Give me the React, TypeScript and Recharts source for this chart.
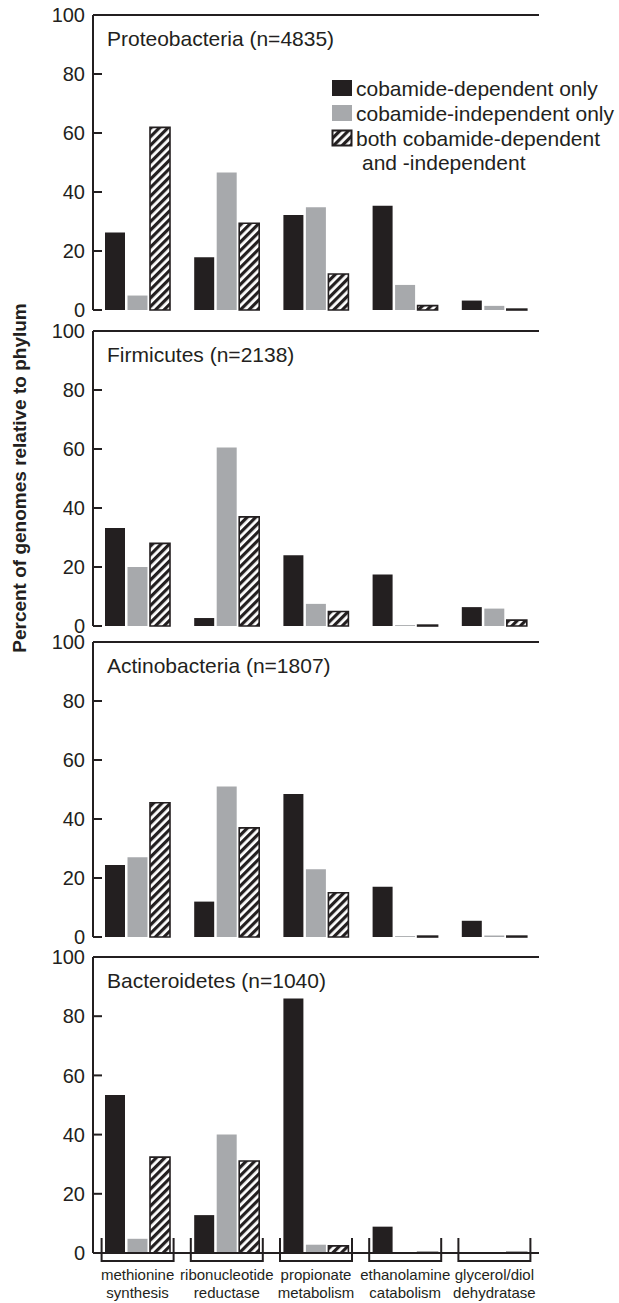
import React from "react";
import { BarChart, Bar, XAxis, YAxis, ReferenceLine } from "recharts";

const INK = "#231f20";
const GREY = "#a7a9ac";
const FONT = '"Liberation Sans", Arial, Helvetica, sans-serif';

const categories = [
  "methionine synthesis",
  "ribonucleotide reductase",
  "propionate metabolism",
  "ethanolamine catabolism",
  "glycerol/diol dehydratase",
];
const yTicks = [0, 20, 40, 60, 80, 100];
const legendLabels = [
  "cobamide-dependent only",
  "cobamide-independent only",
  "both cobamide-dependent",
  "and -independent",
];
const phylumNames = ["Proteobacteria", "Firmicutes", "Actinobacteria", "Bacteroidetes"];
const phylumCounts = [4835, 2138, 1807, 1040];

const proteoDependent = [26.3, 17.9, 32.2, 35.3, 3.2];
const proteoIndependent = [4.9, 46.6, 34.8, 8.5, 1.4];
const proteoBoth = [61.9, 29.4, 12.2, 1.5, 0.3];

const firmiDependent = [33.2, 2.7, 24, 17.5, 6.4];
const firmiIndependent = [20, 60.5, 7.5, 0.3, 5.9];
const firmiBoth = [28, 37, 4.9, 0.3, 2];

const actinoDependent = [24.4, 12, 48.5, 17, 5.5];
const actinoIndependent = [27, 51, 23, 0.3, 0.5];
const actinoBoth = [45.5, 37, 15, 0.3, 0.3];

const bacteroDependent = [53.4, 12.8, 86, 8.9, 0.2];
const bacteroIndependent = [4.8, 40, 2.8, 0.2, 0.2];
const bacteroBoth = [32.4, 31.1, 2.4, 0.2, 0.2];

const panelSeries = [
  [proteoDependent, proteoIndependent, proteoBoth],
  [firmiDependent, firmiIndependent, firmiBoth],
  [actinoDependent, actinoIndependent, actinoBoth],
  [bacteroDependent, bacteroIndependent, bacteroBoth],
];

// plot top (value 100) and bottom (value 0) in page pixels
const panelTops = [15, 331, 642, 957];
const panelBottoms = [310, 626, 937, 1253];

function YTick(props: any) {
  const { x, y, payload } = props;
  return (
    <g>
      <line x1={x} x2={x + 9} y1={y} y2={y} stroke={INK} strokeWidth={2} />
      <text
        x={x - 8}
        y={y}
        dy="0.36em"
        textAnchor="end"
        fontSize={20}
        fontFamily={FONT}
        fill={INK}
      >
        {payload.value}
      </text>
    </g>
  );
}

function CatTick(props: any) {
  const { x, y, payload } = props;
  const lines = String(payload.value).split(" ");
  return (
    <g>
      <path
        d={`M${x - 36},${y - 15} L${x - 36},${y + 8} L${x + 36},${y + 8} L${x + 36},${y - 15}`}
        fill="none"
        stroke={INK}
        strokeWidth={2}
      />
      <text textAnchor="middle" fontSize={15} fontFamily={FONT} fill={INK}>
        <tspan x={x} y={y + 27}>
          {lines[0]}
        </tspan>
        <tspan x={x} y={y + 45}>
          {lines[1]}
        </tspan>
      </text>
    </g>
  );
}

function Panel({ idx }: { idx: number }) {
  const [dep, ind, both] = panelSeries[idx];
  const data = categories.map((c, i) => ({
    category: c,
    dependent: dep[i],
    independent: ind[i],
    both: both[i],
  }));
  const withX = idx === 3;
  const mTop = 10;
  const plotH = panelBottoms[idx] - panelTops[idx];
  const xH = withX ? 52 : 0;
  const mBottom = withX ? 0 : 10;
  const h = mTop + plotH + xH + mBottom;
  return (
    <div style={{ position: "absolute", left: 0, top: panelTops[idx] - mTop }}>
      <BarChart
        width={619}
        height={h}
        data={data}
        margin={{ top: mTop, right: 80, left: 0, bottom: mBottom }}
        barSize={20}
        barGap={2.5}
      >
        <XAxis
          dataKey="category"
          height={xH}
          interval={0}
          tickLine={false}
          tickSize={0}
          tickMargin={0}
          axisLine={{ stroke: INK, strokeWidth: 2 }}
          tick={withX ? (p: any) => <CatTick {...p} /> : false}
        />
        <YAxis
          yAxisId="l"
          width={93}
          domain={[0, 100]}
          ticks={yTicks}
          interval={0}
          tickLine={false}
          tickSize={0}
          tickMargin={0}
          axisLine={{ stroke: INK, strokeWidth: 2 }}
          tick={(p: any) => <YTick {...p} />}
        />
        <YAxis
          yAxisId="r"
          orientation="right"
          width={0}
          domain={[0, 100]}
          tick={false}
          tickLine={false}
          axisLine={{ stroke: INK, strokeWidth: 2 }}
        />
        <Bar yAxisId="l" dataKey="dependent" fill={INK} isAnimationActive={false} />
        <Bar yAxisId="l" dataKey="independent" fill={GREY} isAnimationActive={false} />
        <Bar
          yAxisId="l"
          dataKey="both"
          fill="url(#hatch)"
          stroke={INK}
          strokeWidth={1.6}
          isAnimationActive={false}
        />
        <ReferenceLine yAxisId="l" y={100} stroke={INK} strokeWidth={2} />
      </BarChart>
      <div
        style={{
          position: "absolute",
          left: 107,
          top: mTop + 12,
          fontSize: 21,
          lineHeight: "24px",
          fontFamily: FONT,
          color: INK,
          whiteSpace: "nowrap",
        }}
      >
        {phylumNames[idx]} (n={phylumCounts[idx]})
      </div>
    </div>
  );
}

function Legend() {
  const centers = [88, 113, 138, 162];
  const top = 68;
  return (
    <div
      style={{
        position: "absolute",
        left: 325,
        top,
        width: 294,
        height: 116,
        background: "#fff",
        fontFamily: FONT,
        color: INK,
        fontSize: 21,
      }}
    >
      {[0, 1, 2].map((i) => (
        <svg
          key={"s" + i}
          width={22}
          height={18}
          style={{ position: "absolute", left: 6, top: centers[i] - top - 9 }}
        >
          {i === 0 && <rect x={1} y={1} width={20} height={16} fill={INK} />}
          {i === 1 && <rect x={1} y={1} width={20} height={16} fill={GREY} />}
          {i === 2 && (
            <rect x={1.5} y={1.5} width={19} height={15} fill="url(#hatch)" stroke={INK} strokeWidth={2} />
          )}
        </svg>
      ))}
      {legendLabels.map((t, i) => (
        <div
          key={"t" + i}
          style={{
            position: "absolute",
            left: i === 3 ? 37 : 31,
            top: centers[i] - top - 12.5,
            lineHeight: "25px",
            whiteSpace: "nowrap",
          }}
        >
          {t}
        </div>
      ))}
    </div>
  );
}

export default function App() {
  return (
    <div
      style={{
        position: "absolute",
        left: 0,
        top: 0,
        width: 619,
        height: 1303,
        background: "#fff",
        fontFamily: FONT,
      }}
    >
      <svg width={0} height={0} style={{ position: "absolute" }}>
        <defs>
          <pattern
            id="hatch"
            patternUnits="userSpaceOnUse"
            width={6}
            height={6}
            patternTransform="rotate(45)"
          >
            <rect x={0} y={0} width={6} height={6} fill="#fff" />
            <rect x={0} y={0} width={3.2} height={6} fill={INK} />
          </pattern>
        </defs>
      </svg>
      {[0, 1, 2, 3].map((i) => (
        <Panel key={i} idx={i} />
      ))}
      <Legend />
      <div
        style={{
          position: "absolute",
          left: 20 - 200,
          top: 478 - 11,
          width: 400,
          height: 22,
          lineHeight: "22px",
          textAlign: "center",
          transform: "rotate(-90deg)",
          fontWeight: "bold",
          fontSize: 19,
          fontFamily: FONT,
          color: INK,
          whiteSpace: "nowrap",
        }}
      >
        Percent of genomes relative to phylum
      </div>
    </div>
  );
}
